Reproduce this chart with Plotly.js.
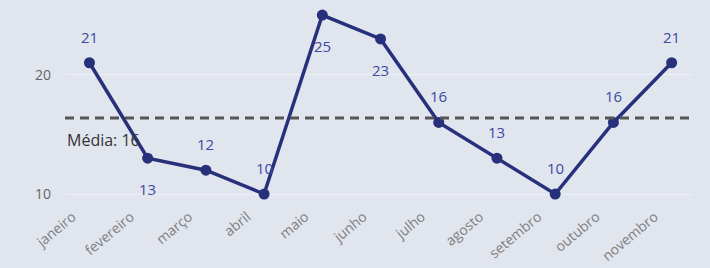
<!DOCTYPE html>
<html>
<head>
<meta charset="utf-8">
<script src="https://cdn.plot.ly/plotly-3.0.1.min.js"></script>
<style>html,body{margin:0;padding:0;background:#e1e5ee;}#chart{width:710px;height:268px;}</style>
</head>
<body>
<div id="chart"></div>
<script>
const months = ["janeiro","fevereiro","março","abril","maio","junho","julho","agosto","setembro","outubro","novembro"];
const values = [21,13,12,10,25,23,16,13,10,16,21];
const labelSides = ["above","below","above","above","below","below","above","above","above","above","above"];

const mean = values.reduce((a,b)=>a+b,0)/values.length;

const trace = {
  x: months, y: values, type: "scatter", mode: "lines+markers",
  line: {color: "#27307a", width: 3.5},
  marker: {color: "#27307a", size: 11},
  cliponaxis: false, hoverinfo: "skip"
};

const dataLabels = months.map((m, i) => ({
  x: m, y: values[i], xref: "x", yref: "y", text: String(values[i]), showarrow: false,
  yanchor: "middle", yshift: labelSides[i] === "above" ? 26 : -31,
  font: {family: "Open Sans, sans-serif", size: 15, color: "#3b4aa3"}
}));

const layout = {
  width: 710, height: 268,
  paper_bgcolor: "#e1e5ee", plot_bgcolor: "#e1e5ee",
  margin: {l: 65, r: 18, t: 5, b: 68},
  showlegend: false,
  font: {family: "Open Sans, sans-serif", color: "#666"},
  xaxis: {type: "category", range: [-0.42, 10.35], showgrid: false, zeroline: false, showline: false,
          tickangle: -40, tickfont: {size: 14, color: "#808080"}, ticks: "",
          ticklabelshift: -17, ticklabelstandoff: 5},
  yaxis: {range: [9.5, 25.84], tickvals: [10, 20], showgrid: true, gridcolor: "#eef0f5", gridwidth: 1,
          zeroline: false, showline: false, tickfont: {size: 14, color: "#666"}, ticklabelstandoff: 13},
  shapes: [{type: "line", xref: "paper", x0: 0, x1: 1, yref: "y", y0: mean, y1: mean,
            line: {color: "#555", width: 3, dash: "9px,6px"}, layer: "above"}],
  annotations: dataLabels.concat([{xref: "paper", x: 0, xanchor: "left", yref: "y", y: mean, yanchor: "middle", yshift: -22,
                 text: "Média: " + Math.round(mean), showarrow: false,
                 font: {family: "Open Sans, sans-serif", size: 16, color: "#333"}}])
};

Plotly.newPlot("chart", [trace], layout, {staticPlot: true, displayModeBar: false});
</script>
</body>
</html>
